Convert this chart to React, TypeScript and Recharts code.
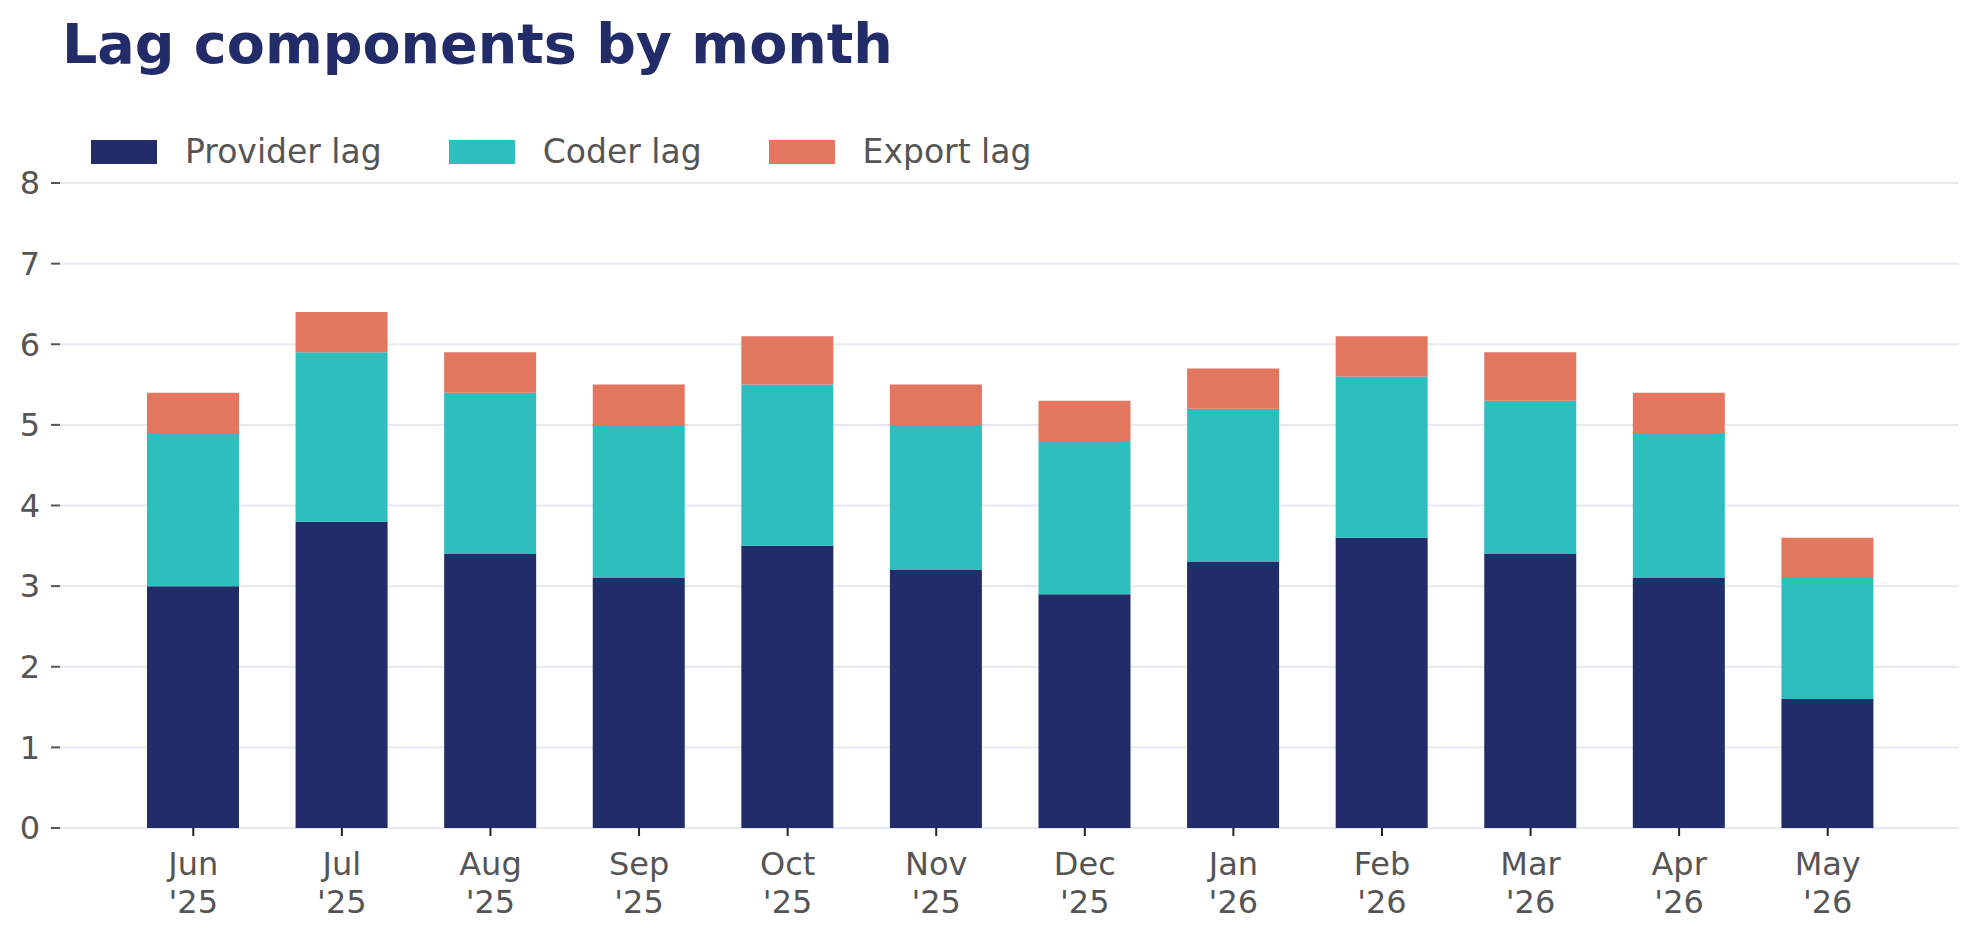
import { BarChart, Bar, XAxis, YAxis, CartesianGrid, Legend } from "recharts";

const months = ["Jun '25", "Jul '25", "Aug '25", "Sep '25", "Oct '25", "Nov '25", "Dec '25", "Jan '26", "Feb '26", "Mar '26", "Apr '26", "May '26"];
const providerLag = [3.0, 3.8, 3.4, 3.1, 3.5, 3.2, 2.9, 3.3, 3.6, 3.4, 3.1, 1.6];
const coderLag = [1.9, 2.1, 2.0, 1.9, 2.0, 1.8, 1.9, 1.9, 2.0, 1.9, 1.8, 1.5];
const exportLag = [0.5, 0.5, 0.5, 0.5, 0.6, 0.5, 0.5, 0.5, 0.5, 0.6, 0.5, 0.5];
const yTicks = [0, 1, 2, 3, 4, 5, 6, 7, 8];

const series = [
  { key: "provider", name: "Provider lag", color: "#212c69" },
  { key: "coder", name: "Coder lag", color: "#2ebebe" },
  { key: "export", name: "Export lag", color: "#e3765f" },
];

const data = months.map((month, i) => ({
  month,
  provider: providerLag[i],
  coder: coderLag[i],
  export: exportLag[i],
}));

const FONT = "'DejaVu Sans', sans-serif";
const TEXT = "#555555";

const MonthTick = (props: any) => {
  const { x, y, payload } = props;
  const [m, yr] = String(payload.value).split(" ");
  return (
    <text x={x} y={y + 37} textAnchor="middle" fill={TEXT} fontSize={32} fontFamily={FONT}>
      <tspan x={x}>{m}</tspan>
      <tspan x={x} dy={38}>{yr}</tspan>
    </text>
  );
};

const LegendRow = () => (
  <div style={{ display: "flex", alignItems: "center", fontFamily: FONT, fontSize: 33, color: TEXT }}>
    {series.map((s) => (
      <div key={s.key} style={{ display: "flex", alignItems: "center", marginRight: 67 }}>
        <div style={{ width: 66, height: 24, background: s.color, marginRight: 28 }} />
        <span style={{ whiteSpace: "nowrap" }}>{s.name}</span>
      </div>
    ))}
  </div>
);

export default function App() {
  return (
    <div style={{ position: "absolute", left: 0, top: 0, width: 1979, height: 939, background: "#fff" }}>
      <div
        style={{
          position: "absolute",
          left: 62,
          top: 16,
          fontFamily: FONT,
          fontWeight: "bold",
          fontSize: 55.5,
          lineHeight: "55px",
          color: "#222c69",
          whiteSpace: "nowrap",
        }}
      >
        Lag components by month
      </div>
      <BarChart width={1979} height={939} data={data} margin={{ top: 183, right: 20, left: 0, bottom: 81 }}>
        <CartesianGrid horizontal vertical={false} stroke="#e6e9f0" strokeWidth={2} />
        <XAxis
          dataKey="month"
          height={30}
          axisLine={false}
          tickSize={8}
          tickLine={{ stroke: "#222", strokeWidth: 2 }}
          tick={<MonthTick />}
          interval={0}
          padding={{ left: 59, right: 57 }}
        />
        <YAxis
          width={60}
          domain={[0, 8]}
          ticks={yTicks}
          axisLine={false}
          tickSize={9}
          tickMargin={11}
          tickLine={{ stroke: TEXT, strokeWidth: 2 }}
          tick={{ fill: TEXT, fontSize: 32, fontFamily: FONT }}
        />
        <Legend
          verticalAlign="middle"
          align="center"
          layout="horizontal"
          content={() => <LegendRow />}
          wrapperStyle={{ top: 132, left: 91, width: "auto" }}
        />
        {series.map((s) => (
          <Bar key={s.key} dataKey={s.key} name={s.name} stackId="lag" fill={s.color} barSize={92} isAnimationActive={false} />
        ))}
      </BarChart>
    </div>
  );
}
